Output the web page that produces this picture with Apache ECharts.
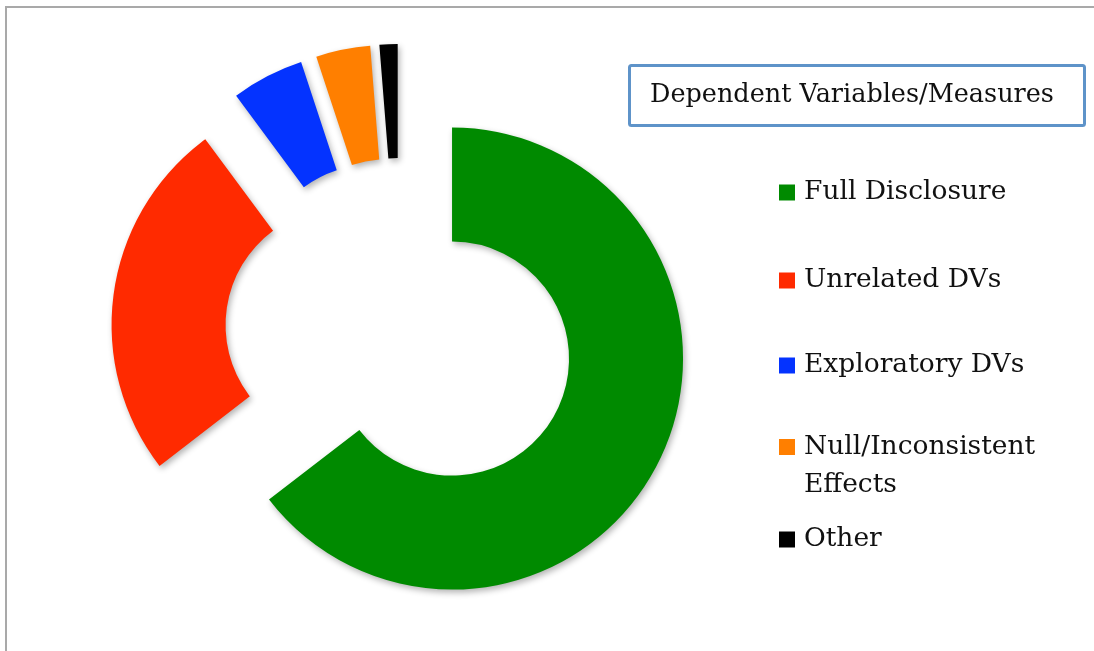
<!DOCTYPE html>
<html>
<head>
<meta charset="utf-8">
<script src="https://cdn.jsdelivr.net/npm/echarts@6/dist/echarts.min.js"></script>
<style>
  * { margin: 0; padding: 0; box-sizing: border-box; }
  html, body { width: 1094px; height: 651px; background: #fff; overflow: hidden; }
  #chart { width: 1094px; height: 651px; }
</style>
</head>
<body>
<div id="chart"></div>
<script>
const categories = ['Full Disclosure', 'Unrelated DVs', 'Exploratory DVs', 'Null/Inconsistent Effects', 'Other']
const counts = [51, 20, 4, 3, 1]
const colors = ['#008a00', '#ff2a00', '#0433ff', '#ff7f00', '#000000']
const legendTitle = 'Dependent Variables/Measures'

const font = 'DejaVu Serif'

const chart = echarts.init(document.getElementById('chart'))

// one legend per item so the spacing matches the original
const legendTops = [179, 267, 352, 390, 526]
const legends = categories.map((name, i) => {
  const twoLine = name === 'Null/Inconsistent Effects'
  return {
    data: [name],
    orient: 'vertical',
    left: 779,
    top: legendTops[i],
    padding: 0,
    itemWidth: 16,
    itemHeight: 16,
    icon: 'rect',
    selectedMode: false,
    // blank first line keeps the first text line level with the square
    formatter: twoLine ? '\nNull/Inconsistent\nEffects' : '{name}',
    textStyle: {
      fontFamily: font,
      fontSize: 26.5,
      color: '#111',
      lineHeight: twoLine ? 38 : 16,
      padding: [0, 0, 0, 4]
    }
  }
})

chart.setOption({
  animation: false,
  backgroundColor: '#fff',
  color: colors,
  graphic: [
    {
      type: 'rect',
      shape: { x: 6, y: 7, width: 1300, height: 1000 },
      style: { fill: 'none', stroke: '#a9a9a9', lineWidth: 2 },
      silent: true
    }
  ],
  title: {
    text: legendTitle,
    left: 629,
    top: 65,
    padding: [16, 31, 16, 21],
    borderColor: '#5e93c9',
    borderWidth: 3,
    borderRadius: 2,
    textStyle: {
      fontFamily: font,
      fontSize: 25.5,
      fontWeight: 'normal',
      color: '#111',
      lineHeight: 29
    }
  },
  legend: legends,
  series: [
    {
      name: legendTitle,
      type: 'pie',
      center: [400, 333],
      radius: [117, 231],
      startAngle: 90,
      clockwise: true,
      selectedMode: 'multiple',
      selectedOffset: 58,
      silent: true,
      label: { show: false },
      labelLine: { show: false },
      itemStyle: {
        borderWidth: 0,
        shadowBlur: 6,
        shadowOffsetX: 2,
        shadowOffsetY: 3,
        shadowColor: 'rgba(0,0,0,0.3)'
      },
      select: { itemStyle: { borderWidth: 0 } },
      data: categories.map((name, i) => ({ name: name, value: counts[i], selected: true }))
    }
  ]
})
</script>
</body>
</html>
